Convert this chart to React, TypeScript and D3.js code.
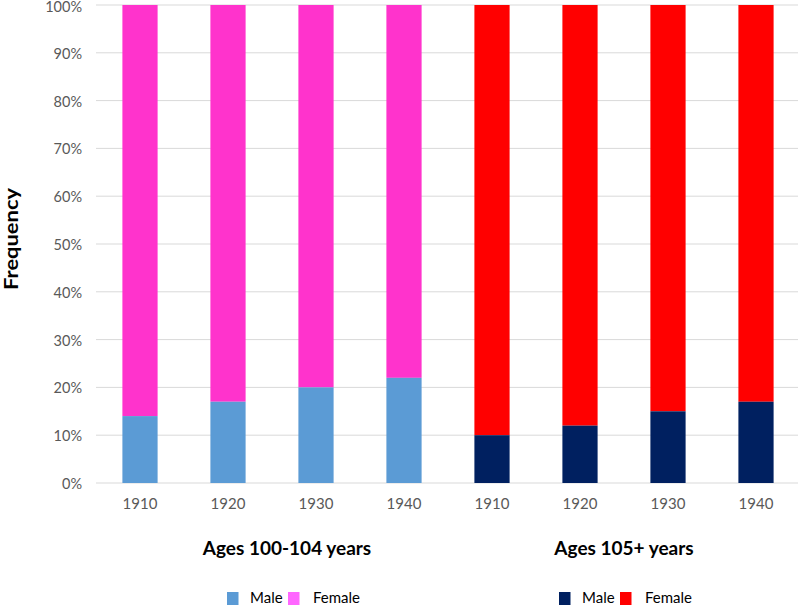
import React from "react";
import * as d3 from "d3";

const years = ["1910", "1920", "1930", "1940"];
const groups = ["Ages 100-104 years", "Ages 105+ years"];
const male100 = [14, 17, 20, 22];
const male105 = [10, 12, 15, 17];
const yTicks = [0, 10, 20, 30, 40, 50, 60, 70, 80, 90, 100];

const W = 800, H = 606;
const left = 96, right = 800, top = 5, bottom = 483;
const FONT = "Lato, 'Open Sans', sans-serif";

type Row = { key: string; year: string; group: number; male: number };
const rows: Row[] = [
  ...years.map((y, i) => ({ key: `a${i}`, year: y, group: 0, male: male100[i] })),
  ...years.map((y, i) => ({ key: `b${i}`, year: y, group: 1, male: male105[i] })),
];

const colors = [
  { male: "#5B9BD5", female: "#FF33CC", femaleLegend: "#FF66FF" },
  { male: "#002060", female: "#FF0000", femaleLegend: "#FF0000" },
];

const groupLabelX = [287, 624];
const legendX = [227, 559];

export default function App() {
  const x = d3.scaleBand<string>().domain(rows.map((r) => r.key)).range([left, right]).paddingInner(0.6).paddingOuter(0.3);
  const y = d3.scaleLinear().domain([0, 100]).range([bottom, top]);
  const bw = x.bandwidth();

  return (
    <svg
      width={W}
      height={H}
      style={{ position: "fixed", left: 0, top: 0, display: "block", fontFamily: FONT }}
    >
      <rect width={W} height={H} fill="#fff" />
      {yTicks.map((t) => (
        <g key={t}>
          <line x1={left} x2={798} y1={y(t)} y2={y(t)} stroke="#d9d9d9" strokeWidth={1} />
          <text x={82} y={Math.max(y(t) + 1, 7)} dy="0.35em" textAnchor="end" fontSize={14.5} fill="#595959">
            {t}%
          </text>
        </g>
      ))}
      {rows.map((r) => {
        const c = colors[r.group];
        const x0 = x(r.key)!;
        return (
          <g key={r.key}>
            <rect x={x0} width={bw} y={y(100)} height={y(r.male) - y(100)} fill={c.female} />
            <rect x={x0} width={bw} y={y(r.male)} height={y(0) - y(r.male)} fill={c.male} />
            <text x={x0 + bw / 2} y={509} textAnchor="middle" fontSize={15} fill="#595959">
              {r.year}
            </text>
          </g>
        );
      })}
      {groups.map((g, gi) => (
        <text key={g} x={groupLabelX[gi]} y={555} textAnchor="middle" fontSize={19} fontWeight="bold" fill="#000">
          {g}
        </text>
      ))}
      <text
        transform={`translate(18,239) rotate(-90)`}
        textAnchor="middle"
        fontSize={19}
        fontWeight="bold"
        fill="#000"
        textLength={102}
        lengthAdjust="spacingAndGlyphs"
      >
        Frequency
      </text>
      {legendX.map((base, gi) => {
        const c = colors[gi];
        return (
          <g key={gi}>
            <rect x={base} y={592} width={11.5} height={13} fill={c.male} />
            <text x={base + 23} y={603} fontSize={15} fill="#000">Male</text>
            <rect x={base + 61} y={592} width={11.5} height={13} fill={c.femaleLegend} />
            <text x={base + 86} y={603} fontSize={15} fill="#000">Female</text>
          </g>
        );
      })}
    </svg>
  );
}
